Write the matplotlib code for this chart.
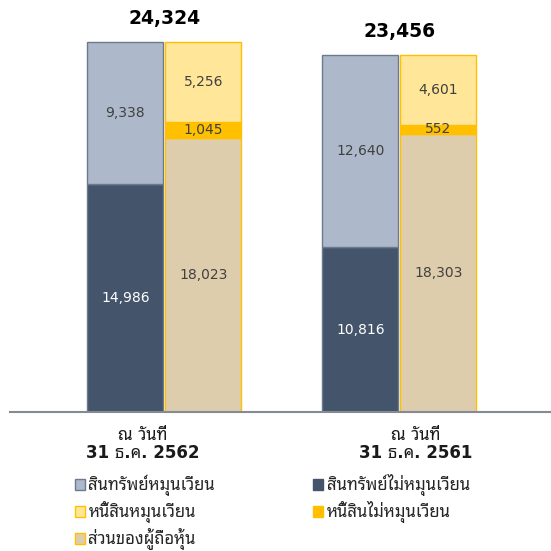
import matplotlib
matplotlib.use("Agg")
import matplotlib.pyplot as plt
import numpy as np
from matplotlib import font_manager, ft2font
from matplotlib.patches import Patch

# data (millions), two balance-sheet dates
periods = ["ณ วันที่\n31 ธ.ค. 2562", "ณ วันที่\n31 ธ.ค. 2561"]
noncurrent_assets = [14986, 10816]
current_assets = [9338, 12640]
equity = [18023, 18303]
noncurrent_liab = [1045, 552]
current_liab = [5256, 4601]

names = {
    "ca": "สินทรัพย์หมุนเวียน",
    "nca": "สินทรัพย์ไม่หมุนเวียน",
    "cl": "หนี้สินหมุนเวียน",
    "ncl": "หนี้สินไม่หมุนเวียน",
    "eq": "ส่วนของผู้ถือหุ้น",
}

colors = {
    "nca": "#44546A",
    "ca": "#ADB9CA",
    "eq": "#DECDAD",
    "ncl": "#FFC000",
    "cl": "#FFE699",
}


def find_thai_font():
    """Look for any installed font that has Thai glyphs."""
    preferred = ["Tahoma", "Noto Sans Thai", "Leelawadee", "Loma", "Garuda",
                 "Norasi", "Sarabun", "Kinnari", "Umpush", "Waree"]
    found = []
    for path in font_manager.findSystemFonts():
        try:
            cmap = ft2font.FT2Font(path).get_charmap()
        except Exception:
            continue
        if 0x0E2A in cmap and 0x0E49 in cmap:
            try:
                name = font_manager.FontProperties(fname=path).get_name()
            except Exception:
                continue
            font_manager.fontManager.addfont(path)
            found.append(name)
    for p in preferred:
        for n in found:
            if n.startswith(p):
                return n
    return found[0] if found else None


thai = find_thai_font()
thai_family = ([thai] if thai else []) + ["DejaVu Sans"]
latin_first = ["DejaVu Sans"] + ([thai] if thai else [])
plt.rcParams["font.family"] = latin_first

fig = plt.figure(figsize=(5.51, 5.51), dpi=100)
# baseline at y=412 px, axes from x=10 to the right edge
ax = fig.add_axes([10 / 551, 139 / 551, 541 / 551, 412 / 551])

x = np.arange(len(periods))
w = 0.323
off = 0.166
totals = np.array(noncurrent_assets) + np.array(current_assets)
ymax = totals[0] * 412 / (412 - 42)

txt_col = "#404040"

# assets bar
b1 = ax.bar(x - off, noncurrent_assets, w, color=colors["nca"],
            edgecolor="#6C7A8F", linewidth=1)
b2 = ax.bar(x - off, current_assets, w, bottom=noncurrent_assets,
            color=colors["ca"], edgecolor="#6C7A8F", linewidth=1)

# liabilities + equity bar
bot2 = np.array(equity) + np.array(noncurrent_liab)
b3 = ax.bar(x + off, equity, w, color=colors["eq"], edgecolor="#FFC000",
            linewidth=1)
b4 = ax.bar(x + off, noncurrent_liab, w, bottom=equity,
            color=colors["ncl"], edgecolor="#FFC000", linewidth=1)
b5 = ax.bar(x + off, current_liab, w, bottom=bot2, color=colors["cl"],
            edgecolor="#FFC000", linewidth=1)

ax.bar_label(b1, labels=[f"{v:,}" for v in noncurrent_assets],
             label_type="center", color="white", fontsize=10)
for bars, vals in [(b2, current_assets), (b3, equity), (b4, noncurrent_liab),
                   (b5, current_liab)]:
    ax.bar_label(bars, labels=[f"{v:,}" for v in vals], label_type="center",
                 color=txt_col, fontsize=10)

# totals above each group
for i, t in enumerate(totals):
    ax.text(x[i], t + ymax * 0.058, f"{t:,}", ha="center", va="center",
            fontsize=13.5, fontweight="bold", color="black")

ax.set_xlim(-0.657, 1.645)
ax.set_ylim(0, ymax)
ax.set_yticks([])
ax.set_xticks([])
for s in ["top", "left", "right"]:
    ax.spines[s].set_visible(False)
ax.spines["bottom"].set_color("#858B95")
ax.spines["bottom"].set_linewidth(1.5)

# category labels under each group
label_x = [143, 416]
for lx, lab in zip(label_x, periods):
    fig.text(lx / 551, 1 - 444 / 551, lab, ha="center", va="center",
             fontsize=12, fontweight="bold", family=latin_first,
             linespacing=1.0, color="#1A1A1A")

handles = [
    Patch(facecolor=colors["ca"], edgecolor="#6C7A8F"),
    Patch(facecolor=colors["cl"], edgecolor="#FFC000"),
    Patch(facecolor=colors["eq"], edgecolor="#FFC000"),
    Patch(facecolor=colors["nca"], edgecolor="#44546A"),
    Patch(facecolor=colors["ncl"], edgecolor="#FFC000"),
]
labels = [names["ca"], names["cl"], names["eq"], names["nca"], names["ncl"]]
leg = fig.legend(handles, labels, ncol=2, loc="upper left",
                 bbox_to_anchor=(75 / 551, 1 - 474 / 551), frameon=False,
                 borderpad=0, borderaxespad=0,
                 handlelength=0.6, handleheight=0.6, handletextpad=0.2,
                 columnspacing=5.9, labelspacing=0.3,
                 prop={"family": thai_family, "size": 12})
for t in leg.get_texts():
    t.set_color("#262626")

fig.savefig("out.png", dpi=100)
